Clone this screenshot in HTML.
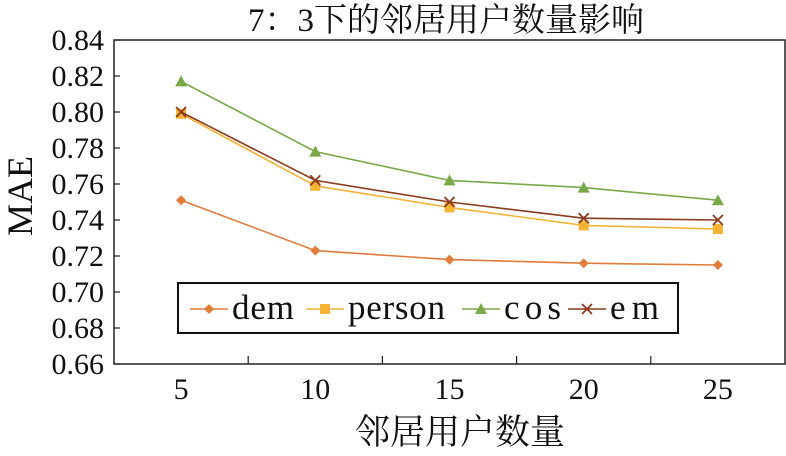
<!DOCTYPE html>
<html><head><meta charset="utf-8"><style>
body{margin:0;background:#fff;}
svg text{font-family:"Liberation Serif","Noto Serif CJK SC",serif;fill:#111;}
</style></head><body>
<svg width="786" height="451">
<text x="446" y="31" font-size="33" text-anchor="middle">7：3下的邻居用户数量影响</text>
<text transform="translate(32,196) rotate(-90)" font-size="36" text-anchor="middle">MAE</text>
<text x="460" y="444" font-size="35" text-anchor="middle">邻居用户数量</text>
<g id="axes"></g><g id="series"></g>
<g>
<rect x="178" y="283" width="500" height="50" fill="#fff" stroke="#111" stroke-width="2"/>
<g id="legend"></g></g>
</svg>
<script>
const categories=["5","10","15","20","25"];
const yTicks=[0.66,0.68,0.70,0.72,0.74,0.76,0.78,0.80,0.82,0.84];
const seriesNames=["dem","person","cos","em"];
const dem=[0.751,0.723,0.718,0.716,0.715];
const person=[0.799,0.759,0.747,0.737,0.735];
const cos=[0.817,0.778,0.762,0.758,0.751];
const em=[0.800,0.762,0.750,0.741,0.740];
const NS="http://www.w3.org/2000/svg";
const L=114,R=785,T=40,B=364,ymin=0.66,ymax=0.84;
const step=(R-L)/categories.length;
const x=i=>L+step*(i+0.5);
const y=v=>B-(v-ymin)/(ymax-ymin)*(B-T);
function mk(tag,a,p){const e=document.createElementNS(NS,tag);for(const k in a)e.setAttribute(k,a[k]);p.appendChild(e);return e;}
const ax=document.getElementById('axes');
const frame=mk('rect',{x:L,y:T,width:R-L,height:B-T,fill:'none',stroke:'#222','stroke-width':1.5},ax);


yTicks.forEach(t=>{
 const ln=mk('line',{x1:L,x2:L+6,y1:y(t),y2:y(t),stroke:'#222','stroke-width':1.2},ax);
 
 
 const tx=mk('text',{x:L-10,y:y(t)+10,'font-size':30,'text-anchor':'end'},ax);
 tx.textContent=t.toFixed(2);
 
 
});
categories.forEach((c,i)=>{
 if(i>0){const ln=mk('line',{x1:L+step*i,x2:L+step*i,y1:B,y2:B-8,stroke:'#222','stroke-width':1.2},ax);
 
 }
 const tx=mk('text',{x:x(i),y:B+35,'font-size':30,'text-anchor':'middle'},ax);
 tx.textContent=c;
 
 
});
const colors=["#e07b39","#f5b335","#78a848","#8b3a1e"];
const data=[dem,person,cos,em];
function marker(k,cx,cy,g){
 const c=colors[k];let e;
 if(k===0)e=mk('polygon',{points:`${cx},${cy-5} ${cx+5},${cy} ${cx},${cy+5} ${cx-5},${cy}`,fill:c},g);
 else if(k===1)e=mk('rect',{x:cx-5,y:cy-5,width:10,height:10,fill:c},g);
 else if(k===2)e=mk('polygon',{points:`${cx},${cy-6} ${cx+6},${cy+5} ${cx-6},${cy+5}`,fill:c},g);
 else e=mk('path',{d:`M${cx-5} ${cy-5}L${cx+5} ${cy+5}M${cx+5} ${cy-5}L${cx-5} ${cy+5}`,stroke:c,'stroke-width':1.8},g);
 return e;
}
const sg=document.getElementById('series');
data.forEach((d,k)=>{
 const g=mk('g',{},sg);
 
 
 const pl=mk('polyline',{points:d.map((v,i)=>x(i)+','+y(v)).join(' '),fill:'none',stroke:colors[k],'stroke-width':1.6},g);
 
 
 d.forEach((v,i)=>{const m=marker(k,x(i),y(v),g);
  
  });
});
const lg=document.getElementById('legend');
const lx=[190,306,462,568];
seriesNames.forEach((n,k)=>{
 const g=mk('g',{},lg);
 
 
 mk('line',{x1:lx[k],x2:lx[k]+38,y1:309,y2:309,stroke:colors[k],'stroke-width':1.6},g);
 marker(k,lx[k]+19,309,g);
 const t=mk('text',{x:lx[k]+42,y:319,'font-size':35,'textLength':{dem:62,person:97,cos:57,em:49}[n]},g);
 t.textContent=n;
});
</script>
</body></html>
